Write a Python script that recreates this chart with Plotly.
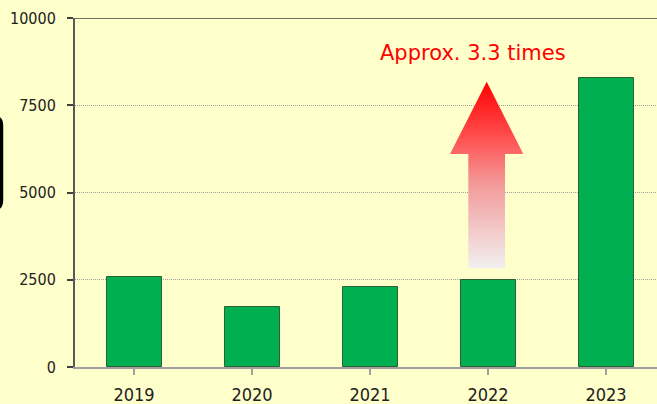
import plotly.graph_objects as go

# Annual values
years = ["2019", "2020", "2021", "2022", "2023"]
values = [2590, 1710, 2300, 2480, 8270]

# Y axis ticks
y_ticks = [0, 2500, 5000, 7500, 10000]
y_tick_labels = ["0", "2500", "5000", "7500", "10000"]

# Growth arrow outline (category position, value)
arrow_x = [2.833, 2.833, 2.678, 2.989, 3.299, 3.144, 3.144, 2.833]
arrow_y = [2830, 6100, 6100, 8175, 6100, 6100, 2830, 2830]
arrow_label = "Approx. 3.3 times"

BG = "#FFFFCC"
FONT = "DejaVu Sans Condensed, Liberation Sans, sans-serif"
LABEL_FONT = "DejaVu Sans, Verdana, sans-serif"

fig = go.Figure()

fig.add_trace(go.Bar(
    x=list(range(len(years))),
    y=values,
    width=0.466,
    marker=dict(color="#00B050", line=dict(color="#2F5F35", width=1)),
    hoverinfo="skip",
))

fig.add_trace(go.Scatter(
    x=arrow_x,
    y=arrow_y,
    mode="lines",
    line=dict(width=0),
    fill="toself",
    fillgradient=dict(
        type="vertical",
        colorscale=[[0, "#F2F0F0"], [0.45, "#F39A9A"], [0.7, "#FF5050"], [1, "#FF0000"]],
    ),
    hoverinfo="skip",
))

fig.add_annotation(
    x=2.87, y=9000, xref="x", yref="y",
    text=arrow_label, showarrow=False,
    font=dict(family=LABEL_FONT, size=21, color="#FF0000"),
)

# Top border line at the axis maximum
fig.add_shape(
    type="line", xref="paper", yref="y",
    x0=0, x1=1, y0=10000, y1=10000,
    line=dict(color="#404040", width=1.5),
)

# Edge of a neighbouring callout box on the left
fig.add_shape(
    type="path", xref="paper", yref="paper",
    path="M -0.16 0.713 L -0.135 0.713 Q -0.1263 0.713 -0.1263 0.69 "
         "L -0.1263 0.48 Q -0.1263 0.456 -0.135 0.456 L -0.16 0.456",
    line=dict(color="#000000", width=3.5),
)

fig.update_layout(
    width=657, height=404,
    margin=dict(l=75, r=0, t=18, b=37, autoexpand=False),
    paper_bgcolor=BG, plot_bgcolor=BG,
    showlegend=False,
    bargap=0,
    font=dict(family=FONT, size=16, color="#222222"),
)

fig.update_xaxes(
    automargin=False,
    range=[-0.5, 4.432],
    tickmode="array",
    tickvals=list(range(len(years))),
    ticktext=years,
    tickson="boundaries",
    ticks="outside", ticklen=6, tickcolor="#A0A0A0", tickwidth=1.5,
    ticklabelstandoff=5,
    showline=True, linecolor="#A0A0A0", linewidth=1.5,
    showgrid=False, zeroline=False,
    tickfont=dict(family=FONT, size=18, color="#222222"),
)

fig.update_yaxes(
    automargin=False,
    range=[0, 10000],
    tickmode="array",
    tickvals=y_ticks,
    ticktext=y_tick_labels,
    ticks="outside", ticklen=6, tickcolor="#404040", tickwidth=1.5,
    ticklabelstandoff=8,
    showline=True, linecolor="#595959", linewidth=2,
    showgrid=True, gridcolor="#A0A0A0", griddash="1px,1px", gridwidth=1,
    zeroline=False,
    tickfont=dict(family=FONT, size=16, color="#222222"),
)

fig.write_html("out.html")
